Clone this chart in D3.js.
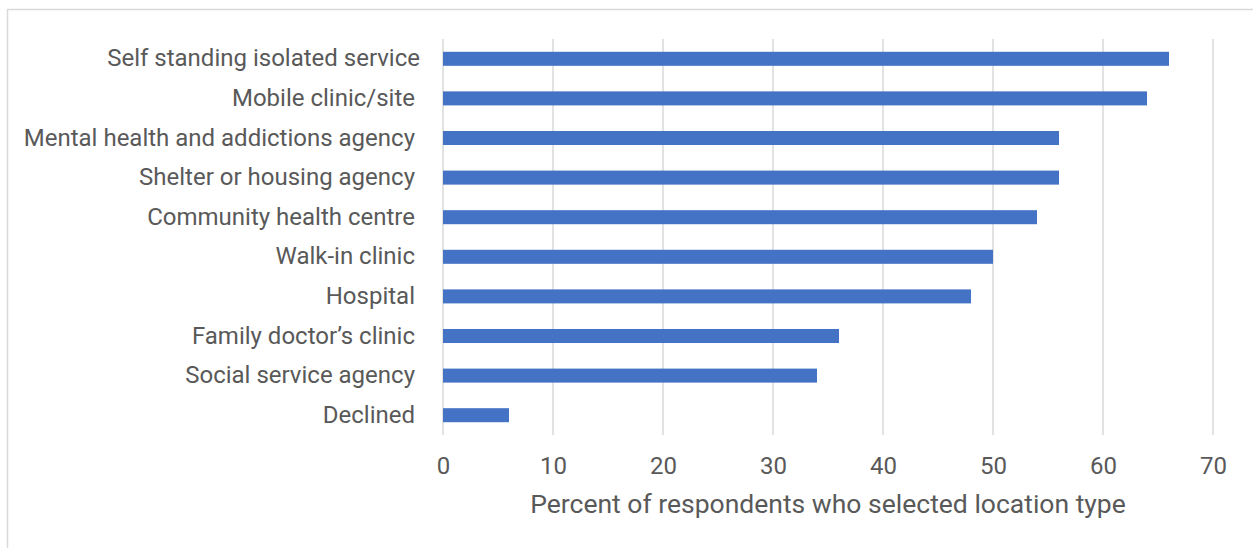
<!DOCTYPE html>
<html>
<head>
<meta charset="utf-8">
<script src="https://cdn.jsdelivr.net/npm/d3@7"></script>
<style>
  body { margin: 0; background: #fff; }
  svg { display: block; font-family: Roboto, sans-serif; }
</style>
</head>
<body>
<svg></svg>
<script>
var categories = ["Self standing isolated service", "Mobile clinic/site", "Mental health and addictions agency",
                  "Shelter or housing agency", "Community health centre", "Walk-in clinic", "Hospital",
                  "Family doctor\u2019s clinic", "Social service agency", "Declined"];
var percents = [66, 64, 56, 56, 54, 50, 48, 36, 34, 6];
var tickValues = [0, 10, 20, 30, 40, 50, 60, 70];
var axisTitle = "Percent of respondents who selected location type";

var width = 1253;
var height = 548;
var margin = {top: 39, left: 443, right: 40, bottom: 113};
var textColor = "#595959";

var svg = d3.select("svg")
              .attr("width", width)
              .attr("height", height);

// outer frame
svg.append("rect")
    .attr("x", 7.5)
    .attr("y", 9.5)
    .attr("width", width + 10)
    .attr("height", height + 10)
    .attr("fill", "none")
    .attr("stroke", "#d9d9d9")
    .attr("stroke-width", 1.5);

var x = d3.scaleLinear()
            .domain([0, 70])
            .range([margin.left, 1213]);

var y = d3.scaleBand()
            .domain(categories)
            .range([margin.top, 435])
            .paddingInner(0.646)
            .paddingOuter(0.323);

// gridlines
svg.append("g")
  .selectAll("line")
  .data(tickValues)
  .enter()
  .append("line")
    .attr("x1", d => x(d))
    .attr("x2", d => x(d))
    .attr("y1", margin.top)
    .attr("y2", 435)
    .attr("stroke", "#d9d9d9")
    .attr("stroke-width", 1.5);

// bars
svg.append("g")
  .selectAll("rect")
  .data(percents)
  .enter()
  .append("rect")
    .attr("x", x(0))
    .attr("y", (d, i) => y(categories[i]))
    .attr("width", d => x(d) - x(0))
    .attr("height", y.bandwidth())
    .attr("fill", "#4472c4");

// x axis labels
var xAxis = d3.axisBottom(x)
                .tickValues(tickValues)
                .tickSize(0)
                .tickPadding(0);

var gx = svg.append("g")
            .attr("transform", "translate(0,474)")
            .call(xAxis);
gx.select(".domain").remove();
gx.selectAll("text")
    .attr("dy", "0")
    .attr("fill", textColor)
    .style("font-size", "24px")
    .style("font-family", "Roboto, sans-serif");

// y axis labels
var yAxis = d3.axisLeft(y)
                .tickSize(0)
                .tickPadding(0);

var gy = svg.append("g")
            .attr("transform", "translate(415,0)")
            .call(yAxis);
gy.select(".domain").remove();
gy.selectAll("text")
    .attr("fill", textColor)
    .style("font-size", "24px")
    .style("font-family", "Roboto, sans-serif")
    // first label sits a bit further right in the original
    .attr("dx", (d, i) => i === 0 ? 5 : 0);

svg.append("text")
    .attr("x", (x(0) + x(70)) / 2)
    .attr("y", 513)
    .attr("text-anchor", "middle")
    .attr("fill", textColor)
    .style("font-size", "26.5px")
    .text(axisTitle);
</script>
</body>
</html>
